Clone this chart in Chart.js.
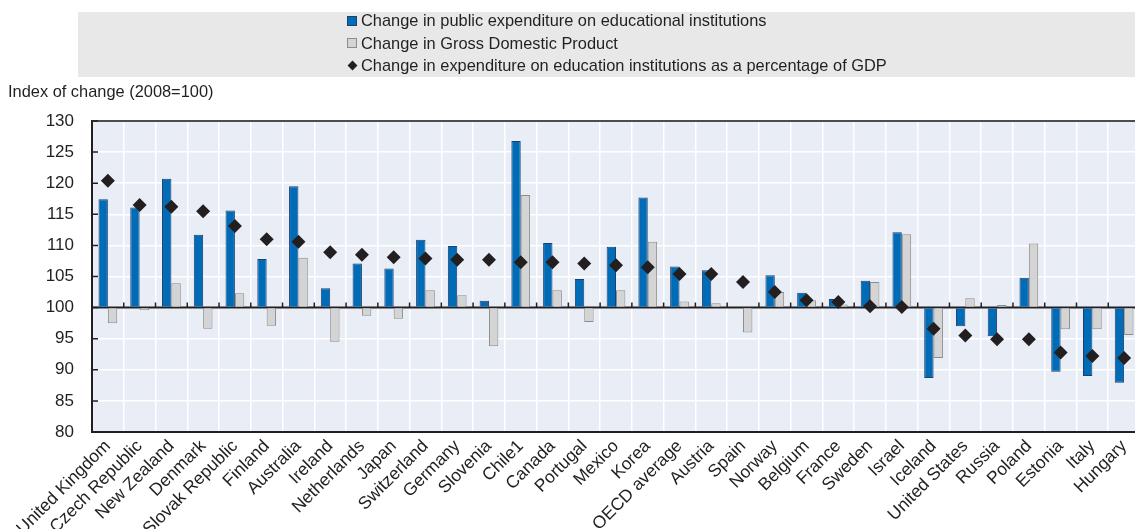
<!DOCTYPE html>
<html>
<head>
<meta charset="utf-8">
<script src="https://cdn.jsdelivr.net/npm/chart.js@4.4.1/dist/chart.umd.min.js"></script>
<style>
  html, body { margin: 0; padding: 0; background: #fff; overflow: hidden; }
  #wrap { position: relative; width: 1135px; height: 529px; overflow: hidden; }
  #chart { display: block; }
  #legend { position: absolute; left: 78px; top: 12px; width: 1057px; height: 65px; background: #e8e8e8; }
  #legend .item { position: absolute; left: 269px; height: 22px; line-height: 22px; white-space: nowrap; color: #231f20; }
  #legend .mk { display: inline-block; vertical-align: middle; box-sizing: border-box; margin: -2px 4px 0 0; }
</style>
</head>
<body>
<div id="wrap">
  <!-- the plot runs a few pixels past the right edge of the page -->
  <canvas id="chart" width="1140" height="529"></canvas>
  <div id="legend"></div>
</div>
<script>
const countries = ['United Kingdom', 'Czech Republic', 'New Zealand', 'Denmark', 'Slovak Republic', 'Finland',
  'Australia', 'Ireland', 'Netherlands', 'Japan', 'Switzerland', 'Germany', 'Slovenia', 'Chile1', 'Canada',
  'Portugal', 'Mexico', 'Korea', 'OECD average', 'Austria', 'Spain', 'Norway', 'Belgium', 'France', 'Sweden',
  'Israel', 'Iceland', 'United States', 'Russia', 'Poland', 'Estonia', 'Italy', 'Hungary'];

// index of change, 2008 = 100
const publicExpenditure = [117.4, 116.1, 120.7, 111.7, 115.6, 107.8, 119.5, 103.1, 107.1, 106.3, 110.9, 109.9,
  101.1, 126.8, 110.4, 104.6, 109.8, 117.7, 106.6, 106.0, 99.9, 105.2, 102.4, 101.4, 104.3, 112.1,
  88.7, 97.0, 95.4, 104.8, 89.7, 89.0, 87.9];
const gdp = [97.5, 99.6, 103.9, 96.6, 102.3, 97.1, 108.0, 94.5, 98.7, 98.2, 102.8, 102.0,
  93.8, 118.1, 102.8, 97.7, 102.8, 110.6, 101.0, 100.7, 96.0, 102.5, 101.2, 100.5, 104.1, 111.8,
  91.9, 101.5, 100.4, 110.3, 96.5, 96.5, 95.6];
const shareOfGdp = [120.4, 116.5, 116.2, 115.5, 113.1, 111.0, 110.6, 108.9, 108.5, 108.1, 107.9, 107.7,
  107.7, 107.3, 107.3, 107.1, 106.8, 106.5, 105.4, 105.4, 104.1, 102.5, 101.2, 100.9, 100.2, 100.1,
  96.6, 95.5, 94.9, 94.9, 92.8, 92.2, 91.9];

const seriesLabels = [
  'Change in public expenditure on educational institutions',
  'Change in Gross Domestic Product',
  'Change in expenditure on education institutions as a percentage of GDP'
];
const yTicks = [80, 85, 90, 95, 100, 105, 110, 115, 120, 125, 130];

const TEXT = '#231f20';
const BLUE = '#006bb6', BLUE_EDGE = '#1d3f6e';
const GREY = '#d4d4d4', GREY_EDGE = '#8c8c8c';

// use the condensed face when the system has it
function hasFont(name) {
  const c = document.createElement('canvas').getContext('2d');
  c.font = '20px monospace';
  const w = c.measureText('abcdefghijklmnopqrstuvwxyz').width;
  c.font = `20px "${name}", monospace`;
  return c.measureText('abcdefghijklmnopqrstuvwxyz').width !== w;
}
const narrow = hasFont('Liberation Sans Narrow');
const FAMILY = narrow ? '"Liberation Sans Narrow", "Liberation Sans", Arial, sans-serif' : '"Liberation Sans", Arial, sans-serif';
const SIZE = narrow ? { text: 20, y: 19, x: 20 } : { text: 16.4, y: 17, x: 17.5 };

// legend
const legendEl = document.getElementById('legend');
const markers = [
  `<span class="mk" style="width:10px;height:10px;background:${BLUE};border:1px solid ${BLUE_EDGE}"></span>`,
  `<span class="mk" style="width:10px;height:10px;background:${GREY};border:1px solid ${GREY_EDGE}"></span>`,
  `<span class="mk" style="width:7px;height:7px;background:${TEXT};transform:rotate(45deg);margin:-2px 5px 0 2px"></span>`
];
seriesLabels.forEach((txt, i) => {
  const d = document.createElement('div');
  d.className = 'item';
  d.style.top = (-1 + i * 22.5) + 'px';
  d.style.font = `${SIZE.text}px ${FAMILY}`;
  d.innerHTML = markers[i] + txt;
  legendEl.appendChild(d);
});

const frame = {
  id: 'frame',
  beforeDraw(chart) {
    const {ctx, chartArea: a} = chart;
    ctx.save();
    ctx.fillStyle = '#e9edf6';
    ctx.fillRect(a.left, a.top, a.right - a.left, a.bottom - a.top);
    ctx.restore();
  },
  beforeDatasetsDraw(chart) {
    const {ctx, chartArea: a, scales: {x, y}} = chart;
    ctx.save();
    // top rule
    ctx.strokeStyle = '#4d4d4d';
    ctx.lineWidth = 2;
    ctx.beginPath();
    ctx.moveTo(a.left, a.top);
    ctx.lineTo(a.right, a.top);
    ctx.stroke();
    // inner tick marks on the value axis
    ctx.strokeStyle = TEXT;
    ctx.lineWidth = 1.5;
    ctx.beginPath();
    yTicks.forEach(v => {
      const py = y.getPixelForValue(v);
      ctx.moveTo(a.left, py);
      ctx.lineTo(a.left + 6, py);
    });
    ctx.stroke();
    // baseline at 100 with category separators
    const y0 = y.getPixelForValue(100);
    ctx.lineWidth = 2;
    ctx.beginPath();
    ctx.moveTo(a.left, y0);
    ctx.lineTo(a.right, y0);
    ctx.stroke();
    ctx.lineWidth = 1.5;
    ctx.beginPath();
    for (let i = 0; i < countries.length - 1; i++) {
      const px = x.getPixelForValue(i + 0.5);
      ctx.moveTo(px, y0);
      ctx.lineTo(px, y0 - 5);
    }
    ctx.stroke();
    ctx.restore();
  }
};

new Chart(document.getElementById('chart'), {
  data: {
    labels: countries,
    datasets: [
      {
        type: 'line',
        label: seriesLabels[2],
        data: shareOfGdp,
        showLine: false,
        pointStyle: 'rectRot',
        pointRadius: 7,
        pointBackgroundColor: TEXT,
        pointBorderColor: TEXT,
        pointBorderWidth: 0,
        order: 0
      },
      {
        type: 'bar',
        label: seriesLabels[0],
        data: publicExpenditure,
        base: 100,
        backgroundColor: BLUE,
        borderColor: BLUE_EDGE,
        borderWidth: 1,
        order: 1
      },
      {
        type: 'bar',
        label: seriesLabels[1],
        data: gdp,
        base: 100,
        backgroundColor: GREY,
        borderColor: GREY_EDGE,
        borderWidth: 1,
        order: 1
      }
    ]
  },
  options: {
    responsive: false,
    animation: false,
    events: [],
    layout: { autoPadding: false, padding: { left: 8, right: 0, top: 0, bottom: 0 } },
    datasets: { bar: { barPercentage: 1, categoryPercentage: 0.59 } },
    plugins: {
      legend: { display: false },
      tooltip: { enabled: false },
      title: {
        display: true,
        text: 'Index of change (2008=100)',
        align: 'start',
        color: TEXT,
        font: { family: FAMILY, size: SIZE.text, weight: 'normal', lineHeight: 1.2 },
        padding: { top: 92 - 0.6 * SIZE.text, bottom: 121 - (92 - 0.6 * SIZE.text) - 1.2 * SIZE.text }
      }
    },
    scales: {
      x: {
        grid: { color: '#ffffff', lineWidth: 1.5, drawTicks: false, offset: true },
        border: { color: TEXT, width: 2 },
        ticks: {
          autoSkip: false, minRotation: 45, maxRotation: 45, padding: 4,
          color: TEXT, font: { family: FAMILY, size: SIZE.x }
        },
        afterFit: s => {
          s.height = 97;
          // rotated labels hang to the left only; no room needed on the right
          s.paddingRight = 0;
        }
      },
      y: {
        min: 80,
        max: 130,
        afterBuildTicks: s => { s.ticks = yTicks.map(v => ({ value: v })); },
        grid: { color: '#ffffff', lineWidth: 1.5, drawTicks: false },
        border: { color: TEXT, width: 2 },
        ticks: { padding: 18, color: TEXT, font: { family: FAMILY, size: SIZE.y } },
        afterFit: s => { s.width = 84; }
      }
    }
  },
  plugins: [frame]
});
</script>
</body>
</html>
